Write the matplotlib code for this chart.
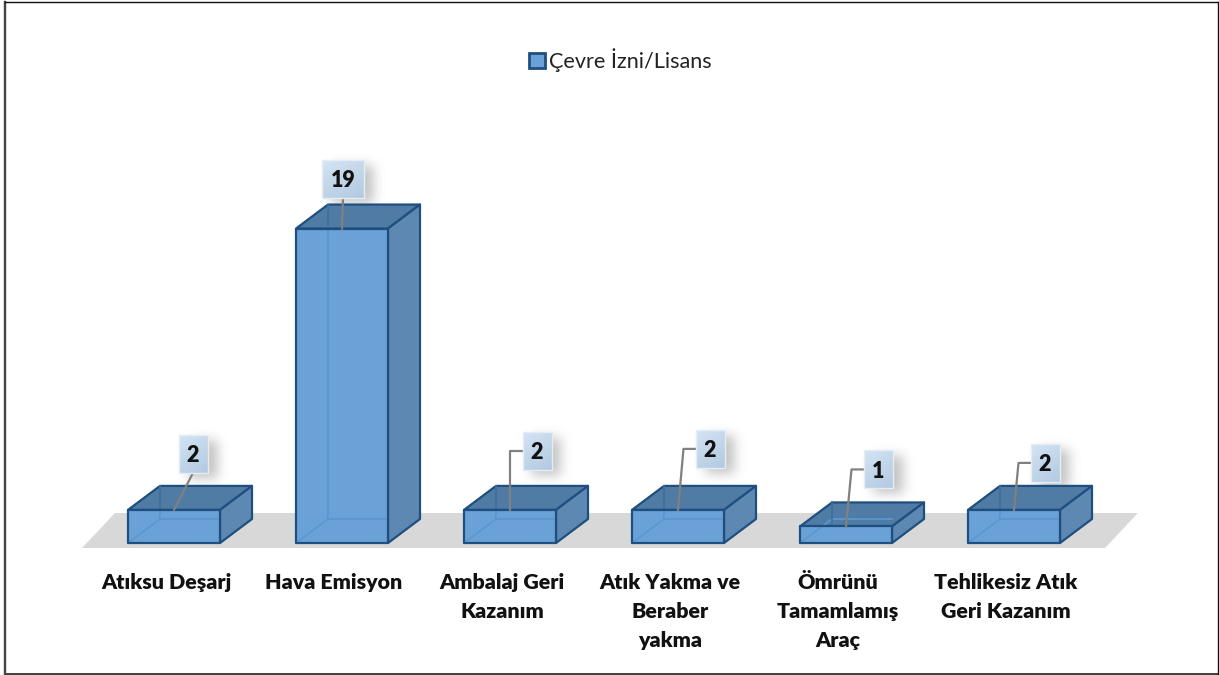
import numpy as np
import matplotlib
matplotlib.use("Agg")
import matplotlib.pyplot as plt
from math import erf
from matplotlib.lines import Line2D
from matplotlib.patches import Polygon, Patch, Rectangle

categories = ["Atıksu Deşarj", "Hava Emisyon", "Ambalaj Geri\nKazanım",
              "Atık Yakma ve\nBeraber\nyakma", "Ömrünü\nTamamlamış\nAraç",
              "Tehlikesiz Atık\nGeri Kazanım"]
values = [2, 19, 2, 2, 1, 2]
series_name = "Çevre İzni/Lisans"

# label layout, in pixels relative to the top centre of each bar's front face
label_dx = [19, 1, 27, 32, 32, 31]
label_dy = [56, 50, 59, 61, 57, 47]

W, H = 1219, 675
PX_X = 168.0      # pixels per category
PX_Y = 16.55      # pixels per unit of value
X0 = 166.0        # pixel of first category tick
Y0 = 543.0        # pixel of value 0
AX_BOTTOM = 549.0

plt.rcParams['font.family'] = ['Lato', 'DejaVu Sans']
fig = plt.figure(figsize=(W / 100, H / 100), dpi=100, facecolor='white')
ax = fig.add_axes([0, (H - AX_BOTTOM) / H, 1, AX_BOTTOM / H])
xlim = (-X0 / PX_X, (W - X0) / PX_X)
ylim = (-(AX_BOTTOM - Y0) / PX_Y, Y0 / PX_Y)
for s in ax.spines.values():
    s.set_visible(False)
ax.set_facecolor('none')
ax.yaxis.set_visible(False)

EDGE = '#1F4F7E'
dx = lambda p: p / PX_X
dy = lambda p: p / PX_Y


def frame_line(x_px, y_px, color, width_px):
    fig.add_artist(Line2D([p / W for p in x_px], [1 - p / H for p in y_px], color=color,
                          lw=width_px * 0.72, transform=fig.transFigure,
                          solid_capstyle='projecting'))


frame_line([5, 5], [1.5, 674], '#444444', 2.4)
frame_line([5, 1218], [673.8, 673.8], '#444444', 2.0)
frame_line([5, 1218], [1.5, 1.5], '#111111', 1.4)
frame_line([1218, 1218], [1.5, 674], '#111111', 1.4)

# floor
n = len(values)
bar_off = -dx(38)
bw = dx(92)
ddx, ddy = dx(32), dy(24)
fx0, fx1 = dx(82 - X0), dx(1105 - X0)
fy0 = -dy(5)
fy1 = dy(30)
fs = dx(33)
ax.add_patch(Polygon([(fx0, fy0), (fx1, fy0), (fx1 + fs, fy1), (fx0 + fs, fy1)],
                     fc='#D9D8D9', ec='none', zorder=1))


def shadow(cx, cy, w, h):
    pad = 22
    nx, ny = int(w + 2 * pad), int(h + 2 * pad)
    yy, xx = np.mgrid[0:ny, 0:nx]
    verf = np.vectorize(erf)
    s = 8.0
    ax_ = 0.5 * (verf((xx - pad) / s) - verf((xx - pad - w) / s))
    ay_ = 0.5 * (verf((yy - pad) / s) - verf((yy - pad - h) / s))
    img = np.zeros((ny, nx, 4))
    img[..., :3] = 0.35
    img[..., 3] = 0.36 * ax_ * ay_
    ax.imshow(img, extent=(cx - dx(nx / 2), cx + dx(nx / 2), cy - dy(ny / 2), cy + dy(ny / 2)),
              aspect='auto', zorder=2.2, interpolation='bilinear')


def label_box(cx, cy, w, h, text):
    c0 = np.array([0.83, 0.895, 0.955])
    c1 = np.array([0.70, 0.79, 0.88])
    g = np.linspace(0, 1, 40)
    yy, xx = np.meshgrid(g, g, indexing='ij')
    t = (0.35 * xx + 0.65 * yy)[..., None]
    img = c0 * (1 - t) + c1 * t
    ax.imshow(img, extent=(cx - dx(w / 2), cx + dx(w / 2), cy - dy(h / 2), cy + dy(h / 2)),
              aspect='auto', zorder=6)
    ax.add_patch(Rectangle((cx - dx(w / 2), cy - dy(h / 2)), dx(w), dy(h), fill=False,
                           ec='#E4EDF6', lw=1.0, zorder=6.1))
    ax.text(cx, cy, text, ha='center', va='center_baseline', fontsize=15.5, fontweight='heavy',
            color='#111111', zorder=7)


for i, v in enumerate(values):
    x0 = i + bar_off
    x1 = x0 + bw
    cx = (x0 + x1) / 2
    lx, ly = cx + dx(label_dx[i]), v + dy(label_dy[i])
    w = 42 if v >= 10 else 29
    shadow(lx + dx(9), ly - dy(5), w, 38)

for i, v in enumerate(values):
    x0 = i + bar_off
    x1 = x0 + bw
    # back and floor faces seen through the box
    ax.add_patch(Polygon([(x0, 0), (x1, 0), (x1 + ddx, ddy), (x0 + ddx, ddy)],
                         fc='#5F97CF', ec='none', alpha=0.55, zorder=3))
    ax.add_patch(Polygon([(x0 + ddx, ddy), (x1 + ddx, ddy), (x1 + ddx, v + ddy), (x0 + ddx, v + ddy)],
                         fc='#6A9FD4', ec='none', alpha=0.9, zorder=3.1))
    # top and right faces
    ax.add_patch(Polygon([(x0, v), (x1, v), (x1 + ddx, v + ddy), (x0 + ddx, v + ddy)],
                         fc='#4F7BA4', ec=EDGE, lw=1.6, alpha=1, zorder=3.5, joinstyle='round'))
    ax.add_patch(Polygon([(x1, 0), (x1 + ddx, ddy), (x1 + ddx, v + ddy), (x1, v)],
                         fc='#5C88B1', ec=EDGE, lw=1.6, zorder=3.5, joinstyle='round'))
    # front face
    ax.add_patch(Polygon([(x0, 0), (x1, 0), (x1, v), (x0, v)],
                         fc='#6AA2D7', ec='none', zorder=3.6))
    # hidden edges seen through the front and top faces
    ax.plot([x0, x0 + ddx], [0, ddy], color='#5A97D2', lw=1.3, zorder=3.7)
    ax.plot([x0 + ddx, x1], [ddy, ddy], color='#5A97D2', lw=1.3, zorder=3.7)
    ax.plot([x0 + ddx, x0 + ddx], [ddy, v], color='#5A97D2', lw=1.3, zorder=3.7)
    ax.plot([x0 + ddx, x0 + ddx], [v, v + ddy], color='#3F6F9C', lw=1.3, zorder=3.7)
    ax.add_patch(Polygon([(x0, 0), (x1, 0), (x1, v), (x0, v)],
                         fc='none', ec=EDGE, lw=1.6, zorder=3.8, joinstyle='round'))

    # leader and value label
    cx = (x0 + x1) / 2
    lx, ly = cx + dx(label_dx[i]), v + dy(label_dy[i])
    w = 42 if v >= 10 else 29
    if i == 0 or i == 1:
        xs, ys = [cx, lx], [v, ly - dy(19)]
    else:
        bend = lx - dx(w / 2 + 12)
        xs, ys = [cx, bend if i != 2 else cx, lx - dx(w / 2)], [v, ly, ly]
    ax.plot(xs, ys, color='#808080', lw=1.6, zorder=5, solid_joinstyle='round')
    label_box(lx, ly, w, 38, str(v))

ax.set_xlim(*xlim)
ax.set_ylim(*ylim)
ax.set_xticks(range(n))
ax.set_xticklabels(categories, fontsize=15.4, fontweight='heavy', color='#111111', linespacing=1.65)
ax.tick_params(axis='x', length=0, pad=17)

handle = Patch(fc='#6AA2D7', ec=EDGE, lw=2)
fig.legend(handles=[handle], labels=[series_name], loc='center left',
           bbox_to_anchor=(509 / W, 1 - 60 / H), frameon=False, fontsize=15.6,
           handlelength=0.75, handleheight=0.7, handletextpad=0.18, labelcolor='#222222')

fig.savefig('out.png', dpi=100, facecolor='white')
